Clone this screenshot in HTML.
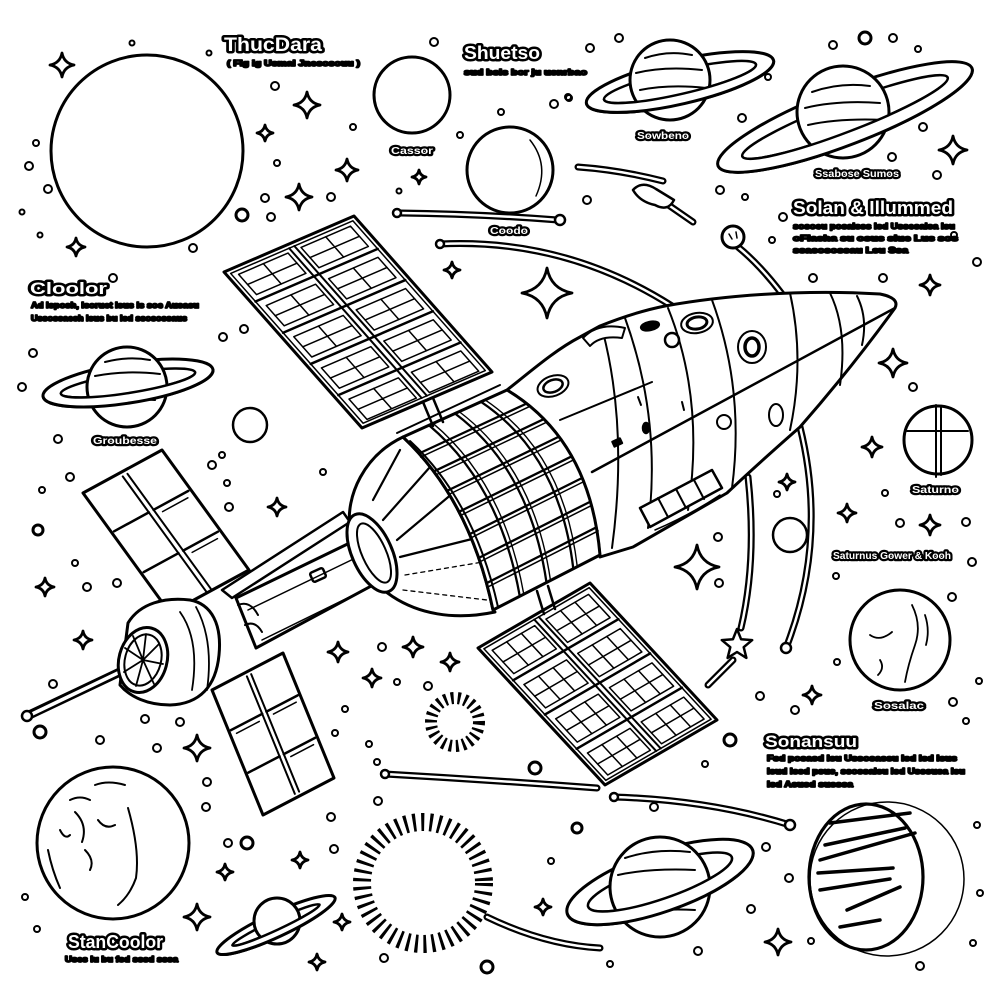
<!DOCTYPE html>
<html><head><meta charset="utf-8">
<style>
html,body{margin:0;padding:0;background:#fff;width:1005px;height:1005px;overflow:hidden}
svg{display:block}
.p *{vector-effect:non-scaling-stroke}
</style></head><body>
<svg xmlns="http://www.w3.org/2000/svg" width="1005" height="1005" viewBox="0 0 1005 1005">
<defs>
<path id="sp" d="M0,-10 Q1.6,-1.6 10,0 Q1.6,1.6 0,10 Q-1.6,1.6 -10,0 Q-1.6,-1.6 0,-10Z" fill="#fff" stroke="#000" stroke-width="2.8" stroke-linejoin="round" vector-effect="non-scaling-stroke"/>
</defs>
<rect width="1005" height="1005" fill="#fff"/>
<g fill="none" stroke="#000" stroke-linecap="round" stroke-linejoin="round" stroke-width="2.5">

<!-- big circles / planets -->
<circle cx="147" cy="151" r="96" stroke-width="3"/>
<circle cx="412" cy="95" r="38" stroke-width="3"/>
<circle cx="510" cy="170" r="43" stroke-width="3"/>
<path d="M530,140 Q550,165 536,196" stroke-width="1.5"/>
<circle cx="250" cy="425" r="17" stroke-width="2.5"/>
<circle cx="790" cy="535" r="17" stroke-width="2.5"/>
<circle cx="938" cy="440" r="34" stroke-width="3"/>
<path d="M936,405 V477 M941,407 V475" stroke-width="2"/>
<path d="M907,431 H968" stroke-width="2"/>
<circle cx="900" cy="640" r="50" stroke-width="3"/>
<path d="M912,605 Q922,625 915,645 Q908,665 905,682 M870,635 Q880,642 892,632 M880,660 Q885,668 878,675 M925,615 Q930,630 926,645" stroke-width="1.8"/>

<!-- Earth bottom-left -->
<circle cx="113" cy="843" r="76" stroke-width="3"/>
<path d="M95,785 Q108,780 125,785 M128,808 Q140,850 136,878 Q130,895 118,905 M75,812 Q88,825 82,842 M85,850 Q95,860 90,870 M48,850 Q52,870 60,888 M98,820 Q105,830 115,825 M70,800 Q80,795 90,800 M60,830 Q65,840 70,835" stroke-width="2"/>

<!-- Jupiter bottom-right -->
<circle cx="887" cy="879" r="77" stroke-width="1.5"/>
<ellipse cx="866" cy="877" rx="57" ry="73" stroke-width="3.2"/>
<path d="M830,823 L910,813 M820,860 L915,833 M818,873 L893,868 M820,890 L890,879 M847,910 L900,887 M840,927 L880,920 M825,845 L905,828" stroke-width="3.5"/>

<!-- Saturn A -->
<g transform="translate(680,82) rotate(-13)"><ellipse rx="96" ry="22" stroke-width="3"/><ellipse rx="78" ry="12"/></g>
<circle cx="670" cy="80" r="40" fill="#fff" stroke-width="3"/>
<path d="M645,58 Q668,50 692,55 M636,73 Q665,66 702,70 M640,90 Q670,84 706,88" stroke-width="2"/>
<g transform="translate(680,82) rotate(-13)"><path d="M-96,0 A96,22 0 0 0 96,0 L78,0 A78,12 0 0 1 -78,0Z" fill="#fff" stroke="none"/><path d="M-96,0 A96,22 0 0 0 96,0" stroke-width="3"/><path d="M-78,0 A78,12 0 0 0 78,0"/></g>

<!-- Saturn B -->
<g transform="translate(845,117) rotate(-21)"><ellipse rx="136" ry="28" stroke-width="3"/><ellipse rx="110" ry="15"/></g>
<circle cx="843" cy="112" r="46" fill="#fff" stroke-width="3"/>
<path d="M812,92 Q840,82 870,86 M805,108 Q838,100 880,103 M808,125 Q840,118 884,120" stroke-width="2"/>
<g transform="translate(845,117) rotate(-21)"><path d="M-136,0 A136,28 0 0 0 136,0 L110,0 A110,15 0 0 1 -110,0Z" fill="#fff" stroke="none"/><path d="M-136,0 A136,28 0 0 0 136,0" stroke-width="3"/><path d="M-110,0 A110,15 0 0 0 110,0"/></g>

<!-- Saturn C -->
<g transform="translate(128,383) rotate(-9)"><ellipse rx="86" ry="20" stroke-width="3"/><ellipse rx="68" ry="10"/></g>
<circle cx="127" cy="387" r="40" fill="#fff" stroke-width="3"/>
<path d="M105,362 Q128,356 150,360 M95,376 Q125,370 160,374 M98,402 Q125,398 155,400" stroke-width="2"/>
<g transform="translate(128,383) rotate(-9)"><path d="M-86,0 A86,20 0 0 0 86,0 L68,0 A68,10 0 0 1 -68,0Z" fill="#fff" stroke="none"/><path d="M-86,0 A86,20 0 0 0 86,0" stroke-width="3"/><path d="M-68,0 A68,10 0 0 0 68,0"/></g>

<!-- Saturn D -->
<g transform="translate(660,882) rotate(-19)"><ellipse rx="98" ry="30" stroke-width="3"/><ellipse rx="76" ry="17"/></g>
<circle cx="660" cy="887" r="50" fill="#fff" stroke-width="3"/>
<path d="M625,858 Q655,848 690,852 M618,875 Q650,868 695,870 M625,915 Q655,908 695,910" stroke-width="2"/>
<g transform="translate(660,882) rotate(-19)"><path d="M-98,0 A98,30 0 0 0 98,0 L76,0 A76,17 0 0 1 -76,0Z" fill="#fff" stroke="none"/><path d="M-98,0 A98,30 0 0 0 98,0" stroke-width="3"/><path d="M-76,0 A76,17 0 0 0 76,0"/></g>

<!-- Saturn E -->
<g transform="translate(276,925) rotate(-25)"><ellipse rx="65" ry="12" stroke-width="3"/><ellipse rx="48" ry="5"/></g>
<circle cx="277" cy="921" r="23" fill="#fff" stroke-width="3"/>
<g transform="translate(276,925) rotate(-25)"><path d="M-65,0 A65,12 0 0 0 65,0 L48,0 A48,5 0 0 1 -48,0Z" fill="#fff" stroke="none"/><path d="M-65,0 A65,12 0 0 0 65,0" stroke-width="3"/><path d="M-48,0 A48,5 0 0 0 48,0"/></g>

<!-- suns -->
<circle cx="455" cy="722" r="24" stroke-width="12" stroke-dasharray="2.8 4" stroke-linecap="butt"/>
<circle cx="423" cy="883" r="61" stroke-width="18" stroke-dasharray="3 5.4" stroke-linecap="butt"/>

<!-- double lines / arcs -->
<g stroke-width="7">
<path d="M400,213 Q480,214 558,220"/>
<path d="M440,244 Q565,238 672,306"/>
<path d="M738,247 Q760,265 782,294"/>
<path d="M800,427 Q828,540 786,648"/>
<path d="M748,477 Q757,560 741,628"/>
<path d="M733,660 L708,685"/>
<path d="M385,774 Q490,780 597,788"/>
<path d="M614,797 Q710,800 790,825"/>
<path d="M487,917 Q545,945 600,948"/>
<path d="M578,167 Q620,170 663,181"/>
<path d="M667,204 L693,222"/>
</g>
<g stroke-width="2.5" stroke="#fff">
<path d="M400,213 Q480,214 558,220"/>
<path d="M440,244 Q565,238 672,306"/>
<path d="M738,247 Q760,265 782,294"/>
<path d="M800,427 Q828,540 786,648"/>
<path d="M748,477 Q757,560 741,628"/>
<path d="M733,660 L708,685"/>
<path d="M385,774 Q490,780 597,788"/>
<path d="M614,797 Q710,800 790,825"/>
<path d="M487,917 Q545,945 600,948"/>
<path d="M578,167 Q620,170 663,181"/>
<path d="M667,204 L693,222"/>
</g>
<circle cx="560" cy="220" r="5" fill="#fff"/>
<circle cx="397" cy="213" r="4" fill="#fff"/>
<circle cx="440" cy="244" r="4" fill="#fff"/>
<circle cx="786" cy="648" r="5" fill="#fff"/>
<circle cx="385" cy="774" r="4" fill="#fff"/>
<circle cx="614" cy="797" r="4" fill="#fff"/>
<circle cx="790" cy="825" r="5" fill="#fff"/>
<circle cx="733" cy="237" r="11" fill="#fff" stroke-width="3"/>
<path d="M729,234 l3,5 M736,232 l1,6" stroke-width="1.5"/>
<path d="M633,190 Q642,180 656,189 L674,200 Q668,212 655,205 Q640,202 633,190Z" fill="#fff" stroke-width="2.5"/>
<polygon points="737,629 741.1,639.3 752.2,640.1 743.7,647.2 746.4,657.9 737,652 727.6,657.9 730.3,647.2 721.8,640.1 732.9,639.3" fill="#fff" stroke-width="2.5"/>

<!-- ============ STATION ============ -->
<!-- upper panel -->
<g class="p" transform="matrix(1.38,1.56,1.30,-0.56,224,272)">
<rect width="100" height="100" fill="#fff" stroke-width="3"/>
<rect x="2" y="3" width="96" height="94" stroke-width="1.5"/>
<path d="M2,48H98M2,52H98" stroke-width="2"/>
<path d="M20,3V97M40,3V97M60,3V97M80,3V97" stroke-width="2.5"/>
<path stroke-width="1.5" d="M4,7h13v38h-13zM24,7h13v38h-13zM44,7h13v38h-13zM64,7h13v38h-13zM84,7h13v38h-13zM4,55h13v38h-13zM24,55h13v38h-13zM44,55h13v38h-13zM64,55h13v38h-13zM84,55h13v38h-13z"/>
<path stroke-width="1.5" d="M4,26h13M24,26h13M44,26h13M64,26h13M84,26h13M4,74h13M24,74h13M44,74h13M64,74h13M84,74h13M10.5,7v38M30.5,7v38M50.5,7v38M70.5,7v38M90.5,7v38M10.5,55v38M30.5,55v38M50.5,55v38M70.5,55v38M90.5,55v38"/>
</g>
<!-- lower-right panel -->
<g class="p" transform="matrix(1.27,1.37,1.12,-0.65,478,648)">
<rect width="100" height="100" fill="#fff" stroke-width="3"/>
<rect x="2" y="3" width="96" height="94" stroke-width="1.5"/>
<path d="M2,48H98M2,52H98" stroke-width="2"/>
<path d="M25,3V97M50,3V97M75,3V97" stroke-width="2.5"/>
<path stroke-width="1.5" d="M5,7h17v38h-17zM30,7h17v38h-17zM55,7h17v38h-17zM80,7h16v38h-16zM5,55h17v38h-17zM30,55h17v38h-17zM55,55h17v38h-17zM80,55h16v38h-16z"/>
<path stroke-width="1.5" d="M5,20h17M30,20h17M55,20h17M80,20h16M5,33h17M30,33h17M55,33h17M80,33h16M5,68h17M30,68h17M55,68h17M80,68h16M5,81h17M30,81h17M55,81h17M80,81h16M13.5,7v38M38.5,7v38M63.5,7v38M88,7v38M13.5,55v38M38.5,55v38M63.5,55v38M88,55v38"/>
</g>
<!-- lower-left panel 1 -->
<g class="p" transform="matrix(0.87,1.20,0.79,-0.43,83,493)">
<rect width="100" height="100" fill="#fff" stroke-width="3"/>
<path d="M3,47H100M3,53H100" stroke-width="2"/>
<path d="M33,3V47M67,3V47M33,53V97M67,53V97" stroke-width="2.5"/>
<path d="M37,60V92M71,60V92" stroke-width="1.5"/>
</g>
<!-- lower-left panel 2 -->
<g class="p" transform="matrix(0.51,1.25,0.71,-0.37,212,690)">
<rect width="100" height="100" fill="#fff" stroke-width="3"/>
<path d="M3,47H97M3,53H97" stroke-width="2"/>
<path d="M33,3V47M67,3V47M33,53V97M67,53V97" stroke-width="2.5"/>
<path d="M37,60V92M71,60V92M37,8V40" stroke-width="1.5"/>
</g>

<!-- antenna -->
<path d="M27,716 L122,671" stroke-width="9"/>
<path d="M30,715 L122,671" stroke="#fff" stroke-width="3.5"/>
<circle cx="27" cy="716" r="5" fill="#fff"/>

<!-- strut & neck -->
<path d="M222,590 L343,512 L350,522 L232,598 Z" fill="#fff"/>
<path d="M236,598 L362,537 L386,578 L256,648 Z" fill="#fff" stroke-width="3"/>
<path d="M248,610 L368,552 M262,640 L380,582" stroke-width="1.5"/>
<rect x="311" y="570" width="14" height="10" rx="2" transform="rotate(-24 318 575)"/>
<path d="M238,605 Q250,600 258,615 M245,625 Q255,620 262,632" stroke-width="2"/>

<!-- dish housing -->
<path d="M128,623 C140,603 165,597 190,600 C212,604 222,625 219,655 C216,686 200,704 170,705 C148,705 130,697 120,685 Z" fill="#fff" stroke-width="3"/>
<path d="M180,612 Q200,640 192,690 M196,607 Q214,640 207,690" stroke-width="1.8"/>
<ellipse cx="143" cy="660" rx="24" ry="33" transform="rotate(15 143 660)" fill="#fff" stroke-width="3"/>
<ellipse cx="143" cy="660" rx="18" ry="26" transform="rotate(15 143 660)" stroke-width="2"/>
<path d="M143,660 L146,634 M143,660 L159,644 M143,660 L163,664 M143,660 L154,684 M143,660 L136,686 M143,660 L124,672 M143,660 L125,648 M143,660 L133,636" stroke-width="1.8"/>

<!-- dome -->
<path d="M403,437 C365,455 345,495 350,530 C355,580 410,630 495,612 L493,610 Q470,500 403,437 Z" fill="#fff" stroke-width="3"/>
<ellipse cx="372" cy="553" rx="20" ry="42" transform="rotate(-24 372 553)" fill="#fff" stroke-width="3"/>
<ellipse cx="374" cy="553" rx="12" ry="32" transform="rotate(-24 374 553)" stroke-width="2"/>
<path d="M373,500 L400,450 M383,520 L430,467 M397,540 L453,493 M400,557 L480,537" stroke-width="2.2"/>
<path d="M405,575 L483,562 M403,590 L487,600" stroke-width="1.3" stroke-dasharray="4 4"/>

<!-- body -->
<path d="M507,390 C530,372 555,350 580,337 L600,326 C625,316 645,310 665,306 C720,296 800,289 880,294 Q900,298 895,308 Q850,370 800,427 Q760,462 727,493 L633,547 L600,557 Q590,440 507,390 Z" fill="#fff" stroke-width="3"/>
<path d="M895,308 L592,472" stroke-width="2.5"/>
<path d="M560,420 L652,382" stroke-width="2"/>
<path d="M603,332 Q628,430 612,548 M625,318 Q662,420 648,528 M668,308 Q705,400 688,510 M712,300 Q745,390 732,488 M790,293 Q805,360 790,430 M830,293 Q848,330 840,385 M857,296 Q868,318 862,345" stroke-width="2"/>
<path d="M583,338 Q598,322 625,328 L622,338 Q600,335 590,346Z" fill="#fff" stroke-width="2"/>
<ellipse cx="650" cy="326" rx="9" ry="4" fill="#000" transform="rotate(-12 650 326)"/>
<ellipse cx="697" cy="323" rx="16" ry="10" transform="rotate(-10 697 323)" stroke-width="2"/>
<ellipse cx="697" cy="323" rx="10" ry="6" transform="rotate(-10 697 323)" stroke-width="3"/>
<circle cx="672" cy="340" r="7" stroke-width="2.5"/>
<ellipse cx="752" cy="347" rx="14" ry="16" stroke-width="2"/>
<ellipse cx="752" cy="347" rx="7" ry="9" stroke-width="3.5"/>
<ellipse cx="776" cy="415" rx="7" ry="11" stroke-width="2"/>
<circle cx="724" cy="422" r="7" stroke-width="2"/>
<ellipse cx="553" cy="386" rx="16" ry="10" transform="rotate(-20 553 386)" stroke-width="2"/>
<ellipse cx="553" cy="386" rx="10" ry="6" transform="rotate(-20 553 386)" stroke-width="2.5"/>
<rect x="613" y="440" width="8" height="5" fill="#000" transform="rotate(-25 617 442)"/>
<ellipse cx="646" cy="428" rx="3" ry="5" fill="#000"/>
<path d="M638,397 l3,8 M682,402 l2,8" stroke-width="2"/>
<polygon points="640,508 712,470 722,488 650,527" fill="#fff" stroke-width="2.5"/>
<path d="M658,498 L668,517 M676,489 L686,508 M694,480 L704,499" stroke-width="2"/>
<path d="M655,530 Q690,515 720,495" stroke-width="1.5"/>

<!-- band -->
<path d="M403,437 L507,390 Q590,440 600,555 L493,610 Q470,500 403,437 Z" fill="#fff" stroke-width="3"/>
<path d="M397,433 L500,385" stroke-width="2"/>
<path d="M410,441 Q474,500 498,607" stroke-width="2"/>
<g stroke-width="2.3">
<path d="M419,453.5 L526.7,403.5 M433.8,471.4 L543.9,419.1 M447,490.9 L559,436.6 M459,511.8 L571.8,456.3 M469.6,534.1 L582.3,477.9 M478.8,557.9 L590.4,501.6 M486.5,583.2 L596.4,527.3"/>
<path d="M429,425.3 Q500,485 519.8,596.3 M455,413.5 Q530,470 546.5,582.5 M481,401.8 Q560,455 573.3,568.8"/>
</g>
<g stroke-width="1.5" transform="translate(1.7,3.6)">
<path d="M419,453.5 L526.7,403.5 M433.8,471.4 L543.9,419.1 M447,490.9 L559,436.6 M459,511.8 L571.8,456.3 M469.6,534.1 L582.3,477.9 M478.8,557.9 L590.4,501.6 M486.5,583.2 L596.4,527.3"/>
</g>
<g stroke-width="1.4" transform="translate(4,-2)">
<path d="M429,425.3 Q500,485 519.8,596.3 M455,413.5 Q530,470 546.5,582.5 M481,401.8 Q560,455 573.3,568.8"/>
</g>
<path d="M423,402 L433,426 M433,398 L443,422" stroke-width="2.5"/>
<path d="M537,591 L544,614 M548,586 L555,609" stroke-width="2.5"/>

<!-- small circles -->
<g stroke-width="2">
<circle cx="275" cy="86" r="4"/><circle cx="29" cy="166" r="4"/><circle cx="48" cy="189" r="4"/><circle cx="265" cy="198" r="4"/><circle cx="271" cy="217" r="4"/><circle cx="193" cy="248" r="4"/><circle cx="132" cy="43" r="2.5"/><circle cx="209" cy="53" r="2.5"/><circle cx="36" cy="143" r="3"/><circle cx="22" cy="212" r="2.5"/><circle cx="40" cy="235" r="2.5"/><circle cx="277" cy="163" r="3"/>
<circle cx="434" cy="42" r="4"/><circle cx="590" cy="48" r="4"/><circle cx="554" cy="104" r="4"/><circle cx="568" cy="97" r="3"/><circle cx="501" cy="112" r="3"/><circle cx="353" cy="127" r="3"/><circle cx="460" cy="135" r="3"/><circle cx="331" cy="197" r="4"/><circle cx="587" cy="200" r="4"/><circle cx="399" cy="191" r="2.5"/>
<circle cx="619" cy="38" r="4"/><circle cx="569" cy="98" r="3"/><circle cx="768" cy="77" r="3"/><circle cx="742" cy="118" r="4"/><circle cx="833" cy="45" r="4"/><circle cx="893" cy="38" r="4"/><circle cx="918" cy="49" r="3"/><circle cx="923" cy="127" r="4"/><circle cx="892" cy="157" r="4"/><circle cx="937" cy="175" r="4"/><circle cx="720" cy="190" r="4"/><circle cx="745" cy="197" r="3"/><circle cx="783" cy="217" r="4"/>
<circle cx="977" cy="262" r="4"/><circle cx="954" cy="235" r="3"/><circle cx="772" cy="240" r="3"/>
<circle cx="113" cy="278" r="4"/><circle cx="33" cy="353" r="4"/><circle cx="22" cy="387" r="4"/><circle cx="58" cy="439" r="4"/><circle cx="70" cy="477" r="4"/><circle cx="42" cy="490" r="3"/><circle cx="75" cy="563" r="3"/><circle cx="87" cy="587" r="4"/><circle cx="117" cy="583" r="4"/><circle cx="53" cy="684" r="4"/><circle cx="223" cy="337" r="4"/><circle cx="244" cy="329" r="4"/><circle cx="212" cy="465" r="4"/><circle cx="222" cy="455" r="3"/><circle cx="227" cy="483" r="3"/><circle cx="229" cy="507" r="4"/><circle cx="323" cy="472" r="3"/>
<circle cx="382" cy="647" r="4"/><circle cx="397" cy="682" r="3"/><circle cx="428" cy="686" r="4"/><circle cx="345" cy="709" r="3"/><circle cx="335" cy="733" r="3"/><circle cx="369" cy="744" r="3"/><circle cx="377" cy="762" r="3"/><circle cx="145" cy="719" r="4"/><circle cx="180" cy="722" r="4"/><circle cx="100" cy="740" r="4"/><circle cx="157" cy="748" r="4"/>
<circle cx="207" cy="782" r="4"/><circle cx="206" cy="807" r="4"/><circle cx="228" cy="843" r="4"/><circle cx="378" cy="801" r="4"/><circle cx="331" cy="817" r="4"/><circle cx="334" cy="849" r="4"/><circle cx="25" cy="897" r="3"/><circle cx="37" cy="929" r="3"/><circle cx="384" cy="958" r="4"/>
<circle cx="760" cy="696" r="4"/><circle cx="795" cy="710" r="4"/><circle cx="837" cy="662" r="3"/><circle cx="953" cy="702" r="4"/><circle cx="979" cy="681" r="3"/><circle cx="966" cy="721" r="3"/><circle cx="654" cy="807" r="4"/><circle cx="551" cy="861" r="3"/><circle cx="766" cy="847" r="4"/><circle cx="789" cy="878" r="4"/><circle cx="751" cy="909" r="4"/><circle cx="698" cy="951" r="4"/><circle cx="610" cy="964" r="3"/><circle cx="811" cy="941" r="3"/><circle cx="920" cy="966" r="4"/><circle cx="980" cy="893" r="3"/><circle cx="977" cy="825" r="3"/><circle cx="973" cy="943" r="3"/><circle cx="705" cy="764" r="3"/>
<circle cx="913" cy="387" r="4"/><circle cx="718" cy="537" r="4"/><circle cx="719" cy="583" r="4"/><circle cx="900" cy="523" r="4"/><circle cx="966" cy="522" r="4"/><circle cx="972" cy="562" r="4"/><circle cx="952" cy="597" r="4"/><circle cx="777" cy="494" r="3"/><circle cx="885" cy="493" r="3"/><circle cx="836" cy="576" r="3"/><circle cx="883" cy="278" r="4"/><circle cx="813" cy="278" r="4"/>
<circle cx="487" cy="967" r="6" stroke-width="3"/><circle cx="242" cy="215" r="6" stroke-width="3"/><circle cx="865" cy="38" r="6" stroke-width="3"/><circle cx="40" cy="732" r="6" stroke-width="3"/><circle cx="247" cy="843" r="6" stroke-width="3"/><circle cx="535" cy="768" r="6" stroke-width="3"/><circle cx="730" cy="740" r="6" stroke-width="3"/><circle cx="38" cy="530" r="5" stroke-width="3"/><circle cx="577" cy="828" r="5" stroke-width="3"/>
</g>

<!-- sparkles -->
<use href="#sp" transform="translate(62 65) scale(1.2)"/>
<use href="#sp" transform="translate(76 247) scale(0.9)"/>
<use href="#sp" transform="translate(307 105) scale(1.3)"/>
<use href="#sp" transform="translate(299 197) scale(1.3)"/>
<use href="#sp" transform="translate(265 133) scale(0.8)"/>
<use href="#sp" transform="translate(347 170) scale(1.1)"/>
<use href="#sp" transform="translate(419 177) scale(0.7)"/>
<use href="#sp" transform="translate(452 270) scale(0.8)"/>
<use href="#sp" transform="translate(547 293) scale(2.5)"/>
<use href="#sp" transform="translate(893 363) scale(1.4)"/>
<use href="#sp" transform="translate(930 285) scale(1.0)"/>
<use href="#sp" transform="translate(953 150) scale(1.4)"/>
<use href="#sp" transform="translate(872 447) scale(1.0)"/>
<use href="#sp" transform="translate(930 525) scale(1.0)"/>
<use href="#sp" transform="translate(697 567) scale(2.2)"/>
<use href="#sp" transform="translate(847 513) scale(0.9)"/>
<use href="#sp" transform="translate(277 507) scale(0.9)"/>
<use href="#sp" transform="translate(45 587) scale(0.9)"/>
<use href="#sp" transform="translate(83 640) scale(0.9)"/>
<use href="#sp" transform="translate(197 748) scale(1.3)"/>
<use href="#sp" transform="translate(338 652) scale(1.0)"/>
<use href="#sp" transform="translate(413 647) scale(1.0)"/>
<use href="#sp" transform="translate(372 678) scale(0.9)"/>
<use href="#sp" transform="translate(197 917) scale(1.3)"/>
<use href="#sp" transform="translate(300 860) scale(0.8)"/>
<use href="#sp" transform="translate(225 872) scale(0.8)"/>
<use href="#sp" transform="translate(342 922) scale(0.8)"/>
<use href="#sp" transform="translate(317 962) scale(0.8)"/>
<use href="#sp" transform="translate(778 942) scale(1.3)"/>
<use href="#sp" transform="translate(543 907) scale(0.8)"/>
<use href="#sp" transform="translate(450 662) scale(0.9)"/>
<use href="#sp" transform="translate(812 695) scale(0.9)"/>
<use href="#sp" transform="translate(787 482) scale(0.8)"/>

<!-- text -->
<g font-family="Liberation Sans, sans-serif" font-weight="700" fill="#fff" stroke="#000" stroke-width="5" paint-order="stroke">
<text x="224" y="51" font-size="19" textLength="98" lengthAdjust="spacingAndGlyphs">ThucDara</text>
<text x="464" y="59" font-size="18" textLength="76" lengthAdjust="spacingAndGlyphs">Shuetso</text>
<text x="793" y="214" font-size="18" textLength="160" lengthAdjust="spacingAndGlyphs">Solan &amp; Illummed</text>
<text x="30" y="294" font-size="17" textLength="77" lengthAdjust="spacingAndGlyphs">Cloolor</text>
<text x="765" y="747" font-size="17" textLength="92" lengthAdjust="spacingAndGlyphs">Sonansuu</text>
<text x="68" y="948" font-size="18" textLength="95" lengthAdjust="spacingAndGlyphs">StanCoolor</text>
</g>
<g font-family="Liberation Sans, sans-serif" font-weight="700" fill="#fff" stroke="#000" stroke-width="4.5" paint-order="stroke" font-size="10.5">
<text x="391" y="154" textLength="42" lengthAdjust="spacingAndGlyphs">Cassor</text>
<text x="490" y="234" textLength="38" lengthAdjust="spacingAndGlyphs">Coodo</text>
<text x="637" y="139" textLength="52" lengthAdjust="spacingAndGlyphs">Sowbeno</text>
<text x="815" y="177" textLength="84" lengthAdjust="spacingAndGlyphs">Ssabose Sumos</text>
<text x="93" y="444" textLength="64" lengthAdjust="spacingAndGlyphs">Groubesse</text>
<text x="912" y="493" textLength="47" lengthAdjust="spacingAndGlyphs">Saturno</text>
<text x="833" y="559" textLength="118" lengthAdjust="spacingAndGlyphs">Saturnus Gower &amp; Kooh</text>
<text x="874" y="709" textLength="50" lengthAdjust="spacingAndGlyphs">Sosalac</text>
</g>
<g font-family="Liberation Sans, sans-serif" font-weight="700" fill="#000" stroke="#000" stroke-width="1.8" font-size="8">
<text x="227" y="66" textLength="133" lengthAdjust="spacingAndGlyphs">( Fig ig Usmal Jnesosouu )</text>
<text x="464" y="75" textLength="123" lengthAdjust="spacingAndGlyphs">sud bsis bor ju usnrbao</text>
<text x="793" y="229" textLength="162" lengthAdjust="spacingAndGlyphs">sosoeu posalsss lsd Ussesalsa lsu</text>
<text x="793" y="241" textLength="165" lengthAdjust="spacingAndGlyphs">oFlasha su osus slue Lus sos</text>
<text x="793" y="253" textLength="115" lengthAdjust="spacingAndGlyphs">ssasosossau Lsu Ssa</text>
<text x="31" y="308" textLength="168" lengthAdjust="spacingAndGlyphs">Ad lsposh, lsoruet lsus ls soe Ausasu</text>
<text x="31" y="321" textLength="156" lengthAdjust="spacingAndGlyphs">Ussossaesh lsus bu lsd ssosossaus</text>
<text x="767" y="761" textLength="190" lengthAdjust="spacingAndGlyphs">Fsd posasd lsu Ussosassu lsd lsd lsus</text>
<text x="767" y="774" textLength="198" lengthAdjust="spacingAndGlyphs">lsud lssd psus, ssossalsu lsd Usssusa lsu</text>
<text x="767" y="787" textLength="86" lengthAdjust="spacingAndGlyphs">lsd Asusd susssa</text>
<text x="65" y="962" textLength="113" lengthAdjust="spacingAndGlyphs">Uses lu bu fsd sssd sssa</text>
</g>
</g>
</svg>
</body></html>
